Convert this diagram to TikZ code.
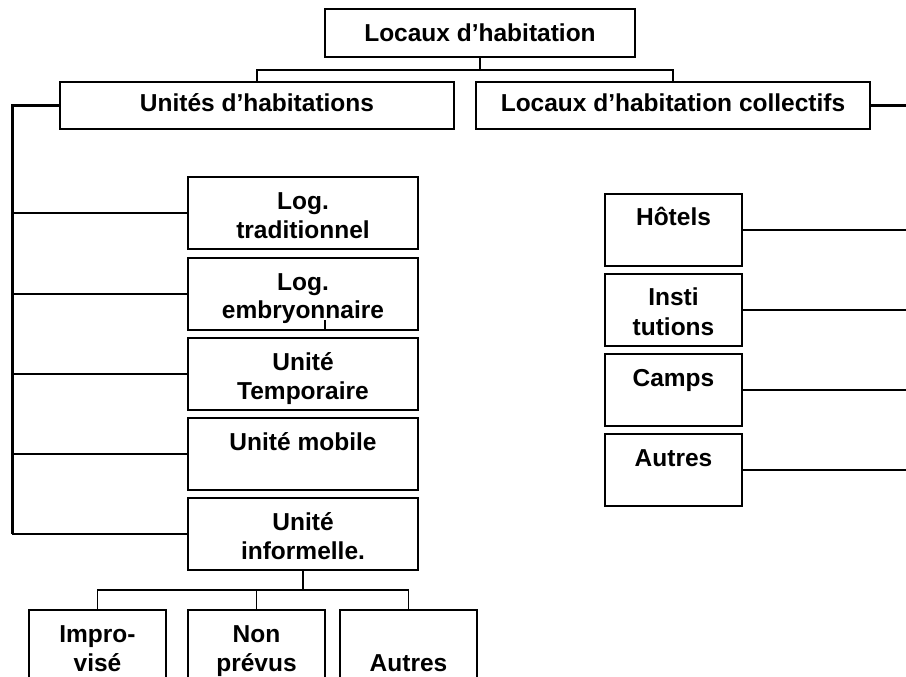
\documentclass[tikz,border=0pt]{standalone}
\usepackage{fontspec}
\setmainfont{Liberation Sans}
\begin{document}
\begin{tikzpicture}[x=1pt,y=-1pt,
  box/.style={draw, line width=1.9pt, inner sep=0pt, outer sep=0pt},
  colbox/.style={box, minimum width=230pt, minimum height=72pt},
  rbox/.style={box, minimum width=137pt, minimum height=72pt},
  lbl/.style={font=\bfseries\fontsize{24.5}{29}\selectfont, inner sep=0pt, anchor=base},
  link/.style={line width=1.9pt},
  bus/.style={line width=3pt},
]
\useasboundingbox (0,0) rectangle (906,677);

% boxes
\node[box, minimum width=310pt, minimum height=48pt] (top) at (480,33) {};
\node[box, minimum width=394pt, minimum height=47pt] (unites) at (257,105.5) {};
\node[box, minimum width=394pt, minimum height=47pt] (coll) at (673,105.5) {};

\node[colbox] (trad) at (303,213) {};
\node[colbox] (emb) at (303,294) {};
\node[colbox] (temp) at (303,374) {};
\node[colbox] (mob) at (303,454) {};
\node[colbox] (inf) at (303,534) {};

\node[rbox] (hot) at (673.5,230) {};
\node[rbox] (inst) at (673.5,310) {};
\node[rbox] (camps) at (673.5,390) {};
\node[rbox] (autr) at (673.5,470) {};

\node[rbox, minimum height=90pt] (impro) at (97.5,655) {};
\node[rbox, minimum height=90pt] (nonp) at (256.5,655) {};
\node[rbox, minimum height=90pt] (autb) at (408.5,655) {};

% labels
\node[lbl] (ttop) at (480,42) {Locaux d’habitation};
\node[lbl] (tuni) at (257,112) {Unités d’habitations};
\node[lbl] (tcol) at (673,112) {Locaux d’habitation collectifs};

\node[lbl] (t1a) at (303,209) {Log.};
\node[lbl] (t1b) at (303,238) {traditionnel};
\node[lbl] (t2a) at (303,290) {Log.};
\node[lbl] (t2b) at (303,318) {embryonnaire};
\node[lbl] (t3a) at (303,370) {Unité};
\node[lbl] (t3b) at (303,399) {Temporaire};
\node[lbl] (t4a) at (303,450) {Unité mobile};
\node[lbl] (t5a) at (303,530) {Unité};
\node[lbl] (t5b) at (303,559) {informelle.};

\node[lbl] (r1) at (673.5,225) {Hôtels};
\node[lbl] (r2a) at (673.5,305) {Insti};
\node[lbl] (r2b) at (673.5,335) {tutions};
\node[lbl] (r3) at (673.5,386) {Camps};
\node[lbl] (r4) at (673.5,466) {Autres};

\node[lbl] (b1a) at (97.5,642) {Impro-};
\node[lbl] (b1b) at (97.5,671) {visé};
\node[lbl] (b2a) at (256.5,642) {Non};
\node[lbl] (b2b) at (256.5,671) {prévus};
\node[lbl] (b3) at (408.5,671) {Autres};

% top tree
\draw[link] (top.south) -- ++(0,13) coordinate (tj) -| (unites.north);
\draw[link] (tj) -| (coll.north);

% left bus
\coordinate (lbus) at (12,534);
\draw[bus] (unites.west) -| (lbus);
\draw[link] (trad.west) -- (trad.west -| lbus);
\draw[link] (emb.west) -- (emb.west -| lbus);
\draw[link] (temp.west) -- (temp.west -| lbus);
\draw[link] (mob.west) -- (mob.west -| lbus);
\draw[link] (inf.west) -- (lbus);

% small tick in embryonnaire box
\coordinate (tick) at (325,320);
\draw[line width=1.2pt] (tick) -- (tick |- emb.south);

% right bus
\coordinate (rbus) at (906,0);
\draw[bus] (coll.east) -- (coll.east -| rbus);
\draw[link] (hot.east) -- (hot.east -| rbus);
\draw[link] (inst.east) -- (inst.east -| rbus);
\draw[link] (camps.east) -- (camps.east -| rbus);
\draw[link] (autr.east) -- (autr.east -| rbus);

% bottom tree
\draw[link] (inf.south) -- ++(0,20) coordinate (bj) -| (impro.north);
\draw[link] (bj) -| (nonp.north);
\draw[link] (bj) -| (autb.north);
\end{tikzpicture}
\end{document}
